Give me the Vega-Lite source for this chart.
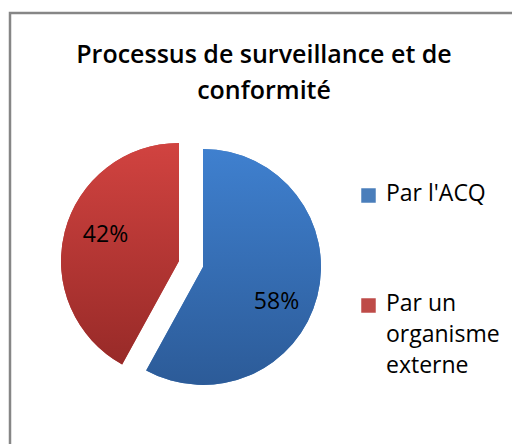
{
  "$schema": "https://vega.github.io/schema/vega-lite/v6.json",
  "width": 508,
  "height": 440,
  "autosize": {"type": "none"},
  "padding": {"left": 10, "top": 13, "right": 0, "bottom": 0},
  "background": "white",
  "view": {"stroke": "#868686", "strokeWidth": 2.5},
  "config": {
    "view": {"stroke": "#868686", "strokeWidth": 2.5},
    "style": {"guide-label": {"lineHeight": 31, "dy": -13}}
  },
  "title": {
    "text": ["Processus de surveillance et de", "conformité"],
    "font": "Open Sans",
    "fontSize": 25,
    "fontWeight": 600,
    "color": "#000000",
    "anchor": "middle",
    "frame": "group",
    "offset": -91,
    "lineHeight": 36
  },
  "data": {
    "values": [
      {"cat": "Par l'ACQ", "share": 0.58, "rank": 1},
      {"cat": "Par un organisme externe", "share": 0.42, "rank": 2}
    ]
  },
  "encoding": {
    "theta": {"field": "share", "type": "quantitative", "stack": true},
    "order": {"field": "rank", "type": "quantitative"}
  },
  "layer": [
    {
      "mark": {
        "type": "arc",
        "x": 181,
        "y": 251,
        "outerRadius": 118,
        "xOffset": {"expr": "datum.rank === 1 ? 12 : -12"},
        "yOffset": {"expr": "datum.rank === 1 ? 3 : -3"}
      },
      "encoding": {
        "color": {
          "field": "cat",
          "type": "nominal",
          "scale": {"domain": ["Par l'ACQ", "Par un organisme externe"], "range": ["#4a7ebb", "#be4b48"]},
          "legend": {
            "orient": "none",
            "legendX": 347,
            "legendY": 171,
            "title": null,
            "padding": 0,
            "symbolType": "square",
            "symbolSize": 210,
            "symbolStrokeWidth": 0,
            "labelFont": "Open Sans",
            "labelFontSize": 23,
            "labelColor": "#000000",
            "labelOffset": 6,
            "labelBaseline": "top",
            "labelLimit": 300,
            "rowPadding": 86,
            "labelExpr": "datum.label === 'Par un organisme externe' ? ['Par un', 'organisme', 'externe'] : datum.label"
          }
        }
      }
    },
    {
      "mark": {
        "type": "arc",
        "x": 181,
        "y": 251,
        "outerRadius": 118,
        "xOffset": {"expr": "datum.rank === 1 ? 12 : -12"},
        "yOffset": {"expr": "datum.rank === 1 ? 3 : -3"}
      },
      "encoding": {
        "fill": {
          "condition": {
            "test": "datum.rank === 1",
            "value": {"gradient": "linear", "x1": 0, "y1": 0, "x2": 0, "y2": 1, "stops": [{"offset": 0, "color": "#3f80cf"}, {"offset": 1, "color": "#2c5b98"}]}
          },
          "value": {"gradient": "linear", "x1": 0, "y1": 0, "x2": 0, "y2": 1, "stops": [{"offset": 0, "color": "#d14340"}, {"offset": 1, "color": "#982a28"}]}
        }
      }
    },
    {
      "mark": {
        "type": "text",
        "x": 181,
        "y": 251,
        "radius": 80,
        "font": "Open Sans",
        "fontSize": 23,
        "color": "#000000",
        "xOffset": {"expr": "datum.rank === 1 ? 8 : -8"},
        "yOffset": {"expr": "datum.rank === 1 ? 18 : -9"}
      },
      "encoding": {
        "text": {"field": "share", "type": "quantitative", "format": ".0%"}
      }
    }
  ]
}
